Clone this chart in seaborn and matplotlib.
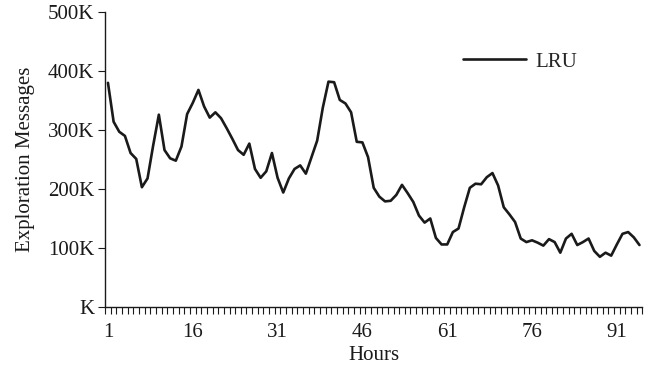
import numpy as np
import pandas as pd
import matplotlib
matplotlib.use("Agg")
import matplotlib.pyplot as plt
import seaborn as sns
from matplotlib.ticker import FixedLocator, FuncFormatter

hours = list(range(1, 96))
lru_k = [380, 314, 297, 290, 261, 251, 203, 218, 274, 326,
         266, 252, 248, 272, 327, 346, 368, 340, 321, 330,
         320, 303, 285, 266, 258, 277, 234, 219, 230, 261,
         219, 194, 218, 234, 240, 226, 254, 282, 338, 382,
         381, 351, 345, 330, 280, 279, 254, 202, 187, 179,
         180, 190, 207, 193, 178, 155, 143, 150, 117, 106,
         106, 127, 133, 169, 202, 209, 208, 220, 227, 206,
         169, 157, 144, 116, 110, 113, 109, 104, 115, 110,
         92, 116, 124, 105, 110, 116, 95, 85, 92, 87,
         106, 124, 127, 118, 105]
x_tick_labels = [1, 16, 31, 46, 61, 76, 91]
y_ticks_k = [0, 100, 200, 300, 400, 500]

sns.set_theme(style="white")
plt.rcParams['font.family'] = ['Liberation Serif', 'DejaVu Serif']
FS = 15

df = pd.DataFrame({"Hours": hours, "Messages": [v * 1000 for v in lru_k], "series": "LRU"})

fig = plt.figure(figsize=(6.53, 3.65), dpi=100)
ax = fig.add_axes([0.161, 0.159, 0.9836 - 0.161, 0.967 - 0.159])
sns.lineplot(data=df, x="Hours", y="Messages", hue="series", palette=["#1a1a1a"],
             linewidth=1.9, ax=ax)

ax.set_xlim(0.5, 95.5)
ax.set_ylim(0, 500000)
ax.set_xticks(x_tick_labels)
ax.set_xticklabels([str(t) for t in x_tick_labels])
ax.xaxis.set_minor_locator(FixedLocator(np.arange(0.5, 96, 1)))
ax.tick_params(axis='x', which='major', length=0, pad=11.5, labelsize=FS, colors='#1a1a1a')
ax.tick_params(axis='x', which='minor', length=5, width=0.8, direction='out',
               color='#1a1a1a', bottom=True)
ax.set_yticks([v * 1000 for v in y_ticks_k])
ax.yaxis.set_major_formatter(FuncFormatter(lambda v, p: "K" if v == 0 else f"{int(v/1000)}K"))
ax.tick_params(axis='y', which='major', length=5, width=0.8, direction='out',
               left=True, labelsize=FS, colors='#1a1a1a', pad=3)

for s in ['top', 'right']:
    ax.spines[s].set_visible(False)
for s in ['left', 'bottom']:
    ax.spines[s].set_color('#1a1a1a')
    ax.spines[s].set_linewidth(1.0)

ax.set_xlabel("Hours", fontsize=FS, color='#1a1a1a', labelpad=3)
ax.set_ylabel("Exploration Messages", fontsize=FS, color='#1a1a1a', labelpad=9)

leg = ax.legend(loc='center left', bbox_to_anchor=((463 - 105) / (642.3 - 105), (307 - 61.7) / (307 - 12)),
                frameon=False, handlelength=3.0, fontsize=FS, handletextpad=0.45,
                borderaxespad=0, borderpad=0)
leg.set_title(None)

fig.savefig("out.png", dpi=100)
